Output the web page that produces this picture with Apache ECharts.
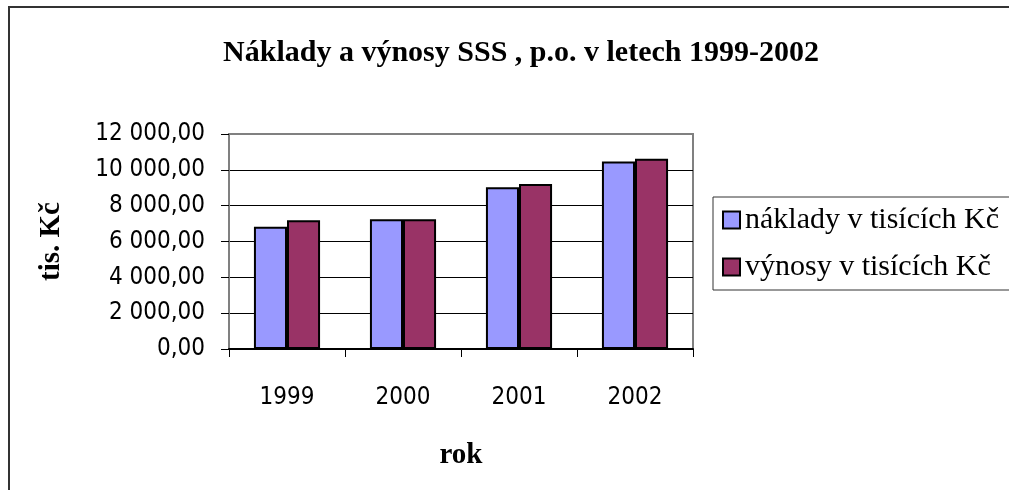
<!doctype html>
<html lang="cs">
<head>
    <meta charset="UTF-8">
    <title>Náklady a výnosy SSS</title>
    <style>
        html, body {
            margin: 0;
            padding: 0;
            background: #fff;
        }
        #main {
            width: 1009px;
            height: 490px;
        }
    </style>
    <script src="https://cdn.jsdelivr.net/npm/echarts@6/dist/echarts.min.js"></script>
</head>
<body>
<div id="main"></div>
<script type="text/javascript">
    // data
    var roky = ['1999', '2000', '2001', '2002'];
    var naklady = [6830, 7240, 9030, 10460];
    var vynosy = [7180, 7240, 9210, 10620];
    var nazvySerii = ['náklady v tisících Kč', 'výnosy v tisících Kč'];

    var serif = '"Liberation Serif", "Times New Roman", serif';
    var sans = '"DejaVu Sans Condensed", "Liberation Sans", sans-serif';

    // 12000 -> "12 000,00"
    function cislo(v) {
        var s = v.toFixed(2).split('.');
        var cele = s[0].replace(/\B(?=(\d{3})+(?!\d))/g, ' ');
        return cele + ',' + s[1];
    }

    var myChart = echarts.init(document.getElementById('main'));
    myChart.setOption({
        animation: false,
        backgroundColor: '#fff',
        graphic: [{
            type: 'rect',
            shape: {x: 9, y: 7, width: 1200, height: 700},
            style: {fill: 'none', stroke: '#333', lineWidth: 2},
            silent: true
        }],
        title: {
            text: 'Náklady a výnosy SSS , p.o. v letech 1999-2002',
            left: 516,
            textAlign: 'center',
            top: 33,
            textStyle: {
                fontFamily: serif,
                fontWeight: 'bold',
                fontSize: 30,
                color: '#000'
            }
        },
        legend: {
            data: nazvySerii,
            orient: 'vertical',
            left: 713,
            top: 197,
            padding: [8, 40, 8, 9],
            itemGap: 17,
            itemWidth: 17,
            itemHeight: 17,
            icon: 'rect',
            borderColor: '#333',
            borderWidth: 1,
            textStyle: {
                fontFamily: serif,
                fontSize: 30,
                lineHeight: 28,
                color: '#000'
            }
        },
        grid: {
            left: 229,
            top: 134,
            right: 316,
            bottom: 141,
            show: true,
            borderColor: '#808080',
            borderWidth: 2,
            containLabel: false
        },
        xAxis: {
            type: 'category',
            data: roky,
            name: 'rok',
            nameLocation: 'middle',
            nameGap: 92,
            nameTextStyle: {
                fontFamily: serif,
                fontWeight: 'bold',
                fontSize: 29,
                color: '#000'
            },
            axisLine: {lineStyle: {color: '#000', width: 2}},
            axisTick: {show: true, length: 8, lineStyle: {color: '#000', width: 1}},
            axisLabel: {
                margin: 37,
                fontFamily: sans,
                fontSize: 24,
                color: '#000'
            }
        },
        yAxis: {
            type: 'value',
            min: 0,
            max: 12000,
            interval: 2000,
            name: 'tis. Kč',
            nameLocation: 'middle',
            nameGap: 163,
            nameTextStyle: {
                fontFamily: serif,
                fontWeight: 'bold',
                fontSize: 29,
                color: '#000'
            },
            axisLine: {show: true, lineStyle: {color: '#808080', width: 2}},
            axisTick: {show: true, length: 8, lineStyle: {color: '#000', width: 1}},
            axisLabel: {
                margin: 24,
                fontFamily: sans,
                fontSize: 24,
                color: '#000',
                formatter: cislo
            },
            splitLine: {
                show: true,
                showMaxLine: false,
                lineStyle: {color: '#000', width: 1}
            }
        },
        series: [{
            name: nazvySerii[0],
            type: 'bar',
            data: naklady,
            barGap: '0%',
            barCategoryGap: '43%',
            itemStyle: {color: '#9999FF', borderColor: '#000', borderWidth: 2}
        }, {
            name: nazvySerii[1],
            type: 'bar',
            data: vynosy,
            itemStyle: {color: '#993366', borderColor: '#000', borderWidth: 2}
        }]
    });
</script>
</body>
</html>
